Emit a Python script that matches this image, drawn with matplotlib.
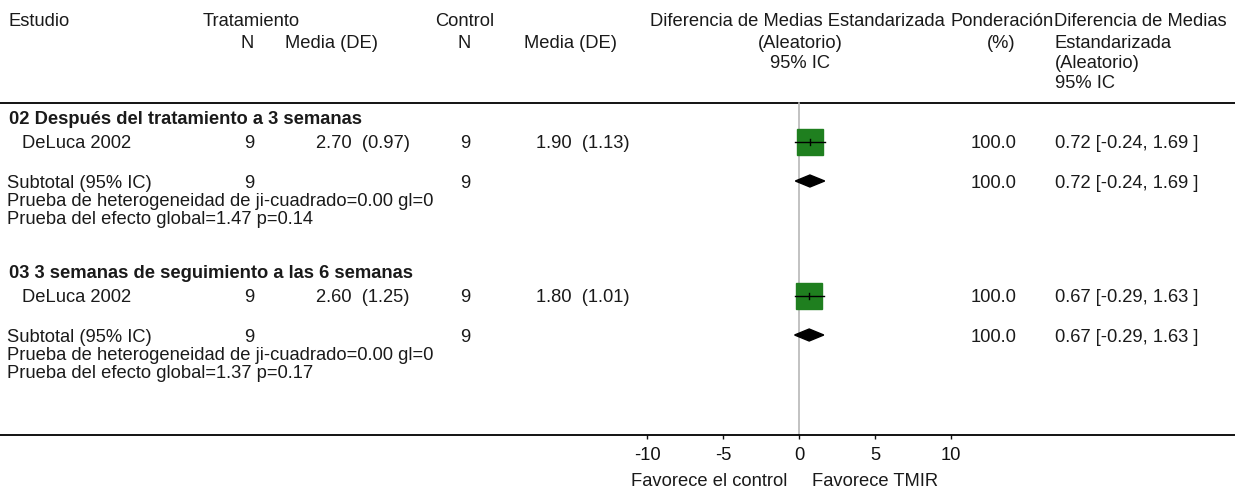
import matplotlib
matplotlib.use("Agg")
import matplotlib.pyplot as plt
from matplotlib.patches import Polygon

# ---- data ----
groups = ["02 Después del tratamiento a 3 semanas",
          "03 3 semanas de seguimiento a las 6 semanas"]
studies = ["DeLuca 2002", "DeLuca 2002"]
trt_n = [9, 9]
trt_mean = [2.70, 2.60]
trt_sd = [0.97, 1.25]
ctl_n = [9, 9]
ctl_mean = [1.90, 1.80]
ctl_sd = [1.13, 1.01]
smd = [0.72, 0.67]
ci_low = [-0.24, -0.29]
ci_high = [1.69, 1.63]
weight = [100.0, 100.0]
het_chi2 = [0.00, 0.00]
het_df = [0, 0]
z_overall = [1.47, 1.37]
p_overall = [0.14, 0.17]
xticks = [-10, -5, 0, 5, 10]

W, H = 1235, 492
plt.rcParams['font.family'] = ['Liberation Sans', 'DejaVu Sans']
FS = 13.2
fig = plt.figure(figsize=(W / 100, H / 100), dpi=100)

# text layer, pixel-like coordinates
ax_t = fig.add_axes([0, 0, 1, 1])
ax_t.set_xlim(0, W)
ax_t.set_ylim(H, 0)
ax_t.axis("off")

# forest axis: bottom spine is the long baseline
y_base = 435
y_top = 103
zero_px, unit_px = 799, 15.2
ax_f = fig.add_axes([0, (H - y_base) / H, 1, y_base / H])
ax_f.set_xlim(-zero_px / unit_px, (W - zero_px) / unit_px)
ax_f.set_ylim(y_base, 0)
ax_f.patch.set_alpha(0)
for s in ("top", "left", "right"):
    ax_f.spines[s].set_visible(False)
ax_f.spines["bottom"].set_linewidth(1.3)
ax_f.set_yticks([])
ax_f.set_xticks(xticks)
ax_f.set_xticklabels([str(t) for t in xticks])
ax_f.tick_params(axis="x", direction="out", length=3, width=1, labelsize=FS,
                 pad=6, colors="#111111")

TXT = "#1a1a1a"

def txt(x, y, s, ha="left", bold=False):
    ax_t.text(x, y, s, ha=ha, va="center", fontsize=FS,
              fontweight="bold" if bold else "normal", color=TXT)

# header
txt(9, 21, "Estudio")
txt(203, 21, "Tratamiento")
txt(247, 44, "N", ha="center")
txt(285, 44, "Media (DE)")
txt(435, 21, "Control")
txt(464, 44, "N", ha="center")
txt(524, 44, "Media (DE)")
txt(650, 21, "Diferencia de Medias Estandarizada")
txt(800, 44, "(Aleatorio)", ha="center")
txt(800, 64, "95% IC", ha="center")
txt(951, 21, "Ponderación")
txt(1016, 44, "(%)", ha="right")
txt(1054, 21, "Diferencia de Medias")
txt(1055, 44, "Estandarizada")
txt(1055, 64, "(Aleatorio)")
txt(1055, 84, "95% IC")
ax_t.plot([0, W], [y_top, y_top], color="black", lw=1.3)

# zero line
ax_f.plot([0, 0], [y_top, y_base], color="#b8b8b8", lw=1.2, zorder=1)

group_y = [119, 273]
for i in range(len(groups)):
    y0 = group_y[i]
    ys, yt = y0 + 25, y0 + 64
    sq, dm = y0 + 23, y0 + 62
    txt(9, y0, groups[i], bold=True)
    txt(22, ys, studies[i])
    txt(249, ys, f"{trt_n[i]}", ha="center")
    txt(410, ys, f"{trt_mean[i]:.2f}  ({trt_sd[i]:.2f})", ha="right")
    txt(465, ys, f"{ctl_n[i]}", ha="center")
    txt(630, ys, f"{ctl_mean[i]:.2f}  ({ctl_sd[i]:.2f})", ha="right")
    txt(1016, ys, f"{weight[i]:.1f}", ha="right")
    ci = f"{smd[i]:.2f} [{ci_low[i]:.2f}, {ci_high[i]:.2f} ]"
    txt(1055, ys, ci)

    txt(7, yt, "Subtotal (95% IC)")
    txt(249, yt, f"{trt_n[i]}", ha="center")
    txt(465, yt, f"{ctl_n[i]}", ha="center")
    txt(1016, yt, f"{weight[i]:.1f}", ha="right")
    txt(1055, yt, ci)
    txt(7, yt + 18, f"Prueba de heterogeneidad de ji-cuadrado={het_chi2[i]:.2f} gl={het_df[i]}")
    txt(7, yt + 36, f"Prueba del efecto global={z_overall[i]:.2f} p={p_overall[i]:.2f}")

    # study square and CI
    ax_f.plot([smd[i]], [sq], marker="s", markersize=18.5, color="#1f7f1f",
              markeredgecolor="#1f7f1f", zorder=3)
    ax_f.plot([ci_low[i], ci_high[i]], [sq, sq], color="black", lw=1, zorder=4)
    ax_f.plot([smd[i], smd[i]], [sq - 3, sq + 3], color="black", lw=1, zorder=4)

    # pooled diamond
    dh = 6
    ax_f.add_patch(Polygon([[ci_low[i], dm], [smd[i], dm - dh],
                            [ci_high[i], dm], [smd[i], dm + dh]],
                           closed=True, facecolor="black", edgecolor="black",
                           lw=1, zorder=3))

txt(631, 482, "Favorece el control")
txt(812, 482, "Favorece TMIR")

fig.savefig("out.png", dpi=100)
